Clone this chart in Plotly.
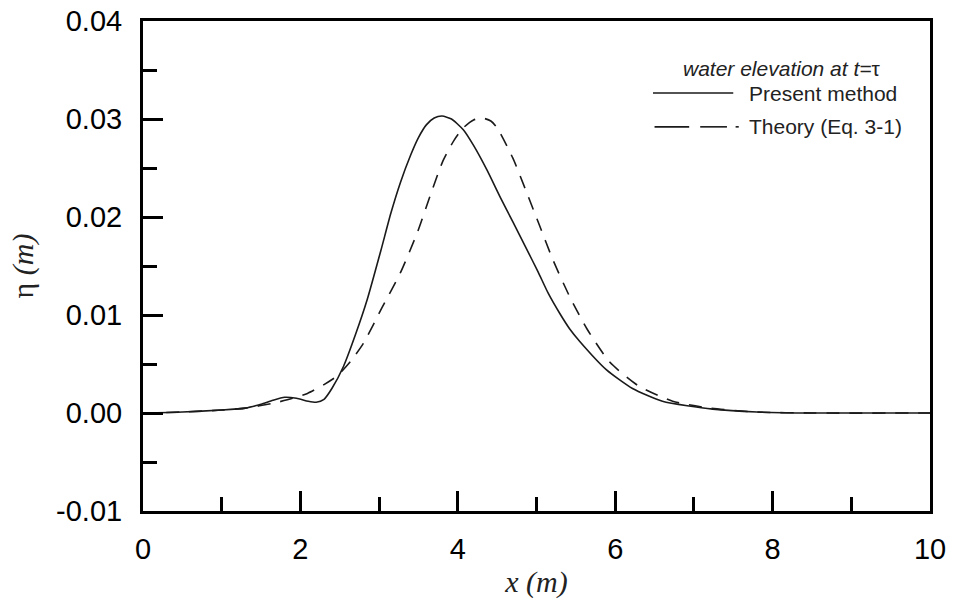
import plotly.graph_objects as go

# ---- data ----
x_present = [0.0, 0.5, 1.0, 1.3, 1.5, 1.65, 1.8, 1.95, 2.1, 2.2, 2.3, 2.4, 2.55, 2.7, 2.85,
             3.02, 3.15, 3.27, 3.4, 3.5, 3.6, 3.7, 3.8, 3.92, 4.07, 4.2, 4.37, 4.54, 4.7, 4.87,
             5.02, 5.15, 5.3, 5.42, 5.55, 5.89, 6.22, 6.6, 7.24, 7.8, 8.5, 10.0]
y_present = [0.0, 0.0001, 0.0003, 0.0005, 0.0009, 0.0013, 0.0016, 0.0015, 0.0012, 0.0011,
             0.0014, 0.0025, 0.0048, 0.0080, 0.0116, 0.0165, 0.0204, 0.0235, 0.0263, 0.0281,
             0.0294, 0.0301, 0.0303, 0.0300, 0.0289, 0.0273, 0.0248, 0.0220, 0.0195, 0.0168,
             0.0144, 0.0122, 0.0101, 0.0086, 0.0073, 0.0044, 0.0025, 0.0012, 0.0004, 0.0001,
             0.0, 0.0]

x_theory = [0.0, 0.5, 1.0, 1.3, 1.66, 1.9, 2.09, 2.3, 2.47, 2.65, 2.8, 3.04, 3.27, 3.49,
            3.65, 3.81, 3.95, 4.07, 4.2, 4.31, 4.42, 4.5, 4.7, 4.88, 5.04, 5.21, 5.42, 5.64,
            5.93, 6.29, 6.73, 7.2, 7.8, 8.5, 10.0]
y_theory = [0.0, 0.0001, 0.0003, 0.0005, 0.0010, 0.0015, 0.0020, 0.0029, 0.0038, 0.0054,
            0.0071, 0.0108, 0.0143, 0.0185, 0.0222, 0.0257, 0.0278, 0.0291, 0.0299, 0.0301,
            0.0298, 0.0291, 0.0260, 0.0224, 0.0191, 0.0156, 0.0119, 0.0086, 0.0052, 0.0028,
            0.0012, 0.0005, 0.0001, 0.0, 0.0]

x_tickvals = [0, 2, 4, 6, 8, 10]
x_ticktext = ["0", "2", "4", "6", "8", "10"]
y_tickvals = [-0.01, 0.0, 0.01, 0.02, 0.03, 0.04]
y_ticktext = ["-0.01", "0.00", "0.01", "0.02", "0.03", "0.04"]

legend_title = "<i>water elevation at t=</i>τ"
series_names = ["Present method", "Theory (Eq. 3-1)"]

LINE_COLOR = "#1a1a1a"

fig = go.Figure()
fig.add_trace(go.Scatter(x=x_present, y=y_present, mode="lines", name=series_names[0],
                         line=dict(color=LINE_COLOR, width=1.6, shape="spline", smoothing=0.6),
                         showlegend=False))
fig.add_trace(go.Scatter(x=x_theory, y=y_theory, mode="lines", name=series_names[1],
                         line=dict(color=LINE_COLOR, width=1.6, dash="13px,10px",
                                   shape="spline", smoothing=0.6),
                         showlegend=False))

tickfont = dict(family="Liberation Sans, Arial, sans-serif", size=29, color="black")
titlefont = dict(family="Liberation Serif, Times New Roman, serif", size=30, color="#222")

fig.update_xaxes(range=[0, 10], showgrid=False, zeroline=False, automargin=False,
                 showline=True, linewidth=3, linecolor="black", mirror=True,
                 ticks="inside", ticklen=20, tickwidth=3, tickcolor="black",
                 tickvals=x_tickvals, ticktext=x_ticktext, tickfont=tickfont,
                 ticklabelstandoff=10,
                 minor=dict(ticks="inside", ticklen=14, tickwidth=3, tickcolor="black",
                            dtick=1, tick0=0, showgrid=False),
                 title=dict(text="<i>x (m)</i>", font=titlefont, standoff=8))
fig.update_yaxes(range=[-0.01, 0.04], showgrid=False, zeroline=False, automargin=False,
                 showline=True, linewidth=3, linecolor="black", mirror=True,
                 ticks="inside", ticklen=20, tickwidth=3, tickcolor="black",
                 tickvals=y_tickvals, ticktext=y_ticktext, tickfont=tickfont,
                 ticklabelstandoff=12,
                 minor=dict(ticks="inside", ticklen=14, tickwidth=3, tickcolor="black",
                            dtick=0.005, tick0=0, showgrid=False),
                 title=dict(text="η <i>(m)</i>", font=titlefont, standoff=14))

# manual legend (long line samples as in the reference)
legfont = dict(family="Liberation Sans, Arial, sans-serif", size=21, color="#222")
annotations = [
    dict(x=0.812, y=0.904, xref="paper", yref="paper", text=legend_title, showarrow=False,
         font=legfont, xanchor="center", yanchor="middle"),
    dict(x=0.7675, y=0.853, xref="paper", yref="paper", text=series_names[0], showarrow=False,
         font=legfont, xanchor="left", yanchor="middle"),
    dict(x=0.7675, y=0.784, xref="paper", yref="paper", text=series_names[1], showarrow=False,
         font=legfont, xanchor="left", yanchor="middle"),
]
legline = dict(color=LINE_COLOR, width=1.6)
shapes = [
    dict(type="line", xref="paper", yref="paper", x0=0.648, x1=0.750, y0=0.853, y1=0.853,
         line=legline),
    dict(type="line", xref="paper", yref="paper", x0=0.650, x1=0.694, y0=0.784, y1=0.784,
         line=legline),
    dict(type="line", xref="paper", yref="paper", x0=0.708, x1=0.742, y0=0.784, y1=0.784,
         line=legline),
    dict(type="line", xref="paper", yref="paper", x0=0.753, x1=0.757, y0=0.784, y1=0.784,
         line=legline),
]

fig.update_layout(width=953, height=602, margin=dict(l=143, r=23, t=21, b=91),
                  plot_bgcolor="white", paper_bgcolor="white",
                  annotations=annotations, shapes=shapes, showlegend=False)

fig.write_html("out.html")
